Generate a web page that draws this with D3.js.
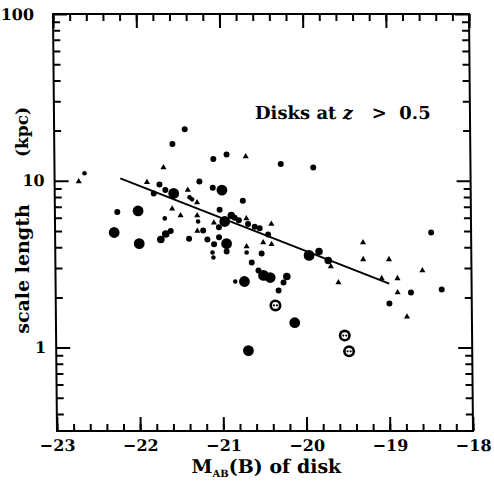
<!DOCTYPE html>
<html>
<head>
<meta charset="utf-8">
<script src="https://d3js.org/d3.v7.min.js"></script>
<style>
  body { margin: 0; background: #fff; }
  svg { display: block; }
  text { font-family: "DejaVu Serif", serif; font-weight: bold; fill: #000; }
</style>
</head>
<body>
<script>
// filled circles: magnitude, scale length (kpc), marker class (1 small .. 4 large)
var dotMag = [-22.64, -21.43, -21.58, -21.74, -21.81, -21.67, -21.57, -21.38, -21.35, -21.26,
  -21.09, -20.93, -20.28, -19.89, -21.10, -20.99, -20.74, -22.25, -22.00, -22.29,
  -21.99, -21.68, -21.73, -21.67, -21.61, -21.39, -21.28, -21.02, -20.96, -20.88,
  -20.84, -20.79, -20.68, -20.60, -20.54, -21.22, -21.17, -21.09, -21.03, -21.03,
  -20.94, -20.94, -21.11, -21.10, -20.44, -20.52, -20.64, -20.56, -20.50, -20.42,
  -20.22, -20.26, -20.32, -20.84, -20.73, -20.13, -20.69, -19.95, -19.83, -19.72,
  -18.99, -18.73, -18.36, -18.48, -20.70];
var dotScale = [11.1, 20.4, 16.6, 9.5, 8.4, 8.8, 8.4, 7.96, 7.74, 9.9,
  13.5, 14.4, 12.6, 12.0, 9.1, 8.8, 7.6, 6.5, 6.6, 4.9,
  4.2, 5.95, 4.45, 4.8, 5.0, 4.5, 5.7, 6.7, 5.7, 6.2,
  6.0, 5.8, 5.5, 5.3, 5.2, 5.04, 4.45, 4.16, 5.26, 4.58,
  4.2, 3.77, 3.72, 3.47, 4.77, 3.67, 3.24, 2.9, 2.71, 2.63,
  2.67, 2.46, 2.20, 2.49, 2.49, 1.41, 0.96, 3.57, 3.77, 3.33,
  1.84, 2.14, 2.23, 4.9, 3.72];
var dotClass = [1, 2, 2, 2, 2, 2, 4, 1, 1, 2,
  2, 2, 2, 2, 2, 4, 2, 2, 4, 4,
  4, 1, 3, 3, 2, 2, 1, 2, 4, 3,
  2, 2, 2, 2, 2, 2, 2, 2, 2, 2,
  4, 2, 1, 1, 2, 2, 2, 2, 4, 4,
  3, 2, 2, 1, 4, 4, 4, 4, 3, 3,
  2, 2, 2, 2, 1];

// small triangles
var triMag = [-22.71, -21.69, -21.89, -21.40, -21.29, -20.70, -21.59, -21.49, -21.29, -21.29,
  -21.09, -20.70, -20.40, -20.50, -20.40, -20.70, -19.69, -19.30, -19.30, -18.99,
  -19.60, -19.08, -18.89, -18.59, -18.89, -18.78];
var triScale = [9.9, 12.0, 9.8, 8.8, 7.4, 14.0, 6.8, 6.2, 6.2, 5.0,
  5.6, 5.95, 5.5, 4.27, 4.16, 4.04, 3.06, 4.27, 3.38, 3.38,
  2.46, 2.60, 2.60, 2.90, 2.14, 1.53];

// circled markers
var ringMag = [-20.36, -19.53, -19.48];
var ringScale = [1.79, 1.18, 0.95];

// fitted relation
var fitMag = [-22.21, -18.99];
var fitScale = [10.35, 2.42];

var xTicks = [-23, -22, -21, -20, -19, -18];
var yTicks = [1, 10, 100];

var W = 494, H = 486;
var m = {left: 57, right: 473, top: 14, bottom: 431};

var x = d3.scaleLinear().domain([-23, -18]).range([m.left, m.right]);
var y = d3.scaleLog().domain([Math.pow(10, -0.5), 100]).range([m.bottom, m.top]);
var rad = d3.scaleOrdinal().domain([1, 2, 3, 4]).range([2.3, 3, 3.8, 5.4]);

var svg = d3.select("body").append("svg")
  .attr("width", W).attr("height", H);

// the scanned figure is slightly sheared
var g = svg.append("g")
  .attr("transform", "translate(0," + m.bottom + ") skewX(0.55) translate(0," + (-m.bottom) + ")");

var xMinor = d3.range(-23, -17.99, 0.2).map(function (d) { return +d.toFixed(1); });
var yMinor = [];
[0.1, 1, 10].forEach(function (dec) {
  for (var k = 2; k <= 9; k++) {
    var v = dec * k;
    if (v > Math.pow(10, -0.5) && v < 100) yMinor.push(v);
  }
});

function addAxis(axis, tx, ty, major) {
  var a = g.append("g")
    .attr("transform", "translate(" + tx + "," + ty + ")")
    .call(axis);
  a.select(".domain").remove();
  a.selectAll("line").attr("stroke", "#000").attr("stroke-width", 2);
  if (!major) a.selectAll("text").remove();
  a.selectAll("text")
    .style("font-size", "16px")
    .style("font-family", "DejaVu Serif")
    .style("font-weight", "bold");
  return a;
}

// bottom
addAxis(d3.axisBottom(x).tickValues(xTicks).tickSize(-14).tickPadding(9)
  .tickFormat(function (d) { return "\u2212" + Math.abs(d); }), 0, m.bottom, true);
addAxis(d3.axisBottom(x).tickValues(xMinor).tickSize(-7), 0, m.bottom, false);
// top
addAxis(d3.axisTop(x).tickValues(xTicks).tickSize(-14), 0, m.top, false);
addAxis(d3.axisTop(x).tickValues(xMinor).tickSize(-7), 0, m.top, false);
// left
var yl = addAxis(d3.axisLeft(y).tickValues(yTicks).tickSize(-14).tickPadding(10)
  .tickFormat(d3.format("d")), m.left, 0, true);
yl.selectAll("text").filter(function (d) { return d === 100; }).attr("dx", -9);
addAxis(d3.axisLeft(y).tickValues(yMinor).tickSize(-7), m.left, 0, false);
// right
addAxis(d3.axisRight(y).tickValues(yTicks).tickSize(-14), m.right, 0, false);
addAxis(d3.axisRight(y).tickValues(yMinor).tickSize(-7), m.right, 0, false);

g.append("rect")
  .attr("x", m.left).attr("y", m.top)
  .attr("width", m.right - m.left).attr("height", m.bottom - m.top)
  .attr("fill", "none").attr("stroke", "#000").attr("stroke-width", 2);

// fit line
g.append("line")
  .attr("x1", x(fitMag[0])).attr("y1", y(fitScale[0]))
  .attr("x2", x(fitMag[1])).attr("y2", y(fitScale[1]))
  .attr("stroke", "#000").attr("stroke-width", 2);

// filled circles
g.selectAll("circle.dot")
  .data(dotMag.map(function (d, i) { return [d, dotScale[i], dotClass[i]]; }))
  .enter().append("circle")
    .attr("class", "dot")
    .attr("cx", function (d) { return x(d[0]); })
    .attr("cy", function (d) { return y(d[1]); })
    .attr("r", function (d) { return rad(d[2]); })
    .attr("fill", "#000");

// triangles
var tri = d3.symbol().type(d3.symbolTriangle).size(16);
g.selectAll("path.tri")
  .data(triMag.map(function (d, i) { return [d, triScale[i]]; }))
  .enter().append("path")
    .attr("class", "tri")
    .attr("d", tri)
    .attr("transform", function (d) { return "translate(" + x(d[0]) + "," + y(d[1]) + ")"; })
    .attr("fill", "#000");

// circled markers
var rings = g.selectAll("g.ring")
  .data(ringMag.map(function (d, i) { return [d, ringScale[i]]; }))
  .enter().append("g")
    .attr("class", "ring")
    .attr("transform", function (d) { return "translate(" + x(d[0]) + "," + y(d[1]) + ")"; });
rings.append("circle").attr("r", 6).attr("fill", "#000");
rings.append("circle").attr("r", 3.4).attr("fill", "#fff");
rings.append("circle").attr("cx", -1.5).attr("r", 1.1).attr("fill", "#000");
rings.append("circle").attr("cx", 1.5).attr("r", 1.1).attr("fill", "#000");

// annotation
var note = g.append("text")
  .attr("x", 258).attr("y", 119)
  .style("font-size", "18px")
  .style("white-space", "pre");
note.append("tspan").text("Disks at ");
note.append("tspan").style("font-style", "italic").text("z");
note.append("tspan").text("   >  0.5");

// axis titles
var xt = g.append("text")
  .attr("x", 266).attr("y", 473)
  .attr("text-anchor", "middle")
  .style("font-size", "19px");
xt.append("tspan").text("M");
xt.append("tspan").attr("dy", 4).style("font-size", "10px").text("AB");
xt.append("tspan").attr("dy", -4).text("(B) of disk");

// y title: the "10" label sits in the gap between the two parts
svg.append("text")
  .attr("transform", "translate(29,269) rotate(-90)")
  .attr("text-anchor", "middle")
  .style("font-size", "19px")
  .text("scale length");
svg.append("text")
  .attr("transform", "translate(28,132) rotate(-90)")
  .attr("text-anchor", "middle")
  .style("font-size", "17px")
  .text("(kpc)");
</script>
</body>
</html>
